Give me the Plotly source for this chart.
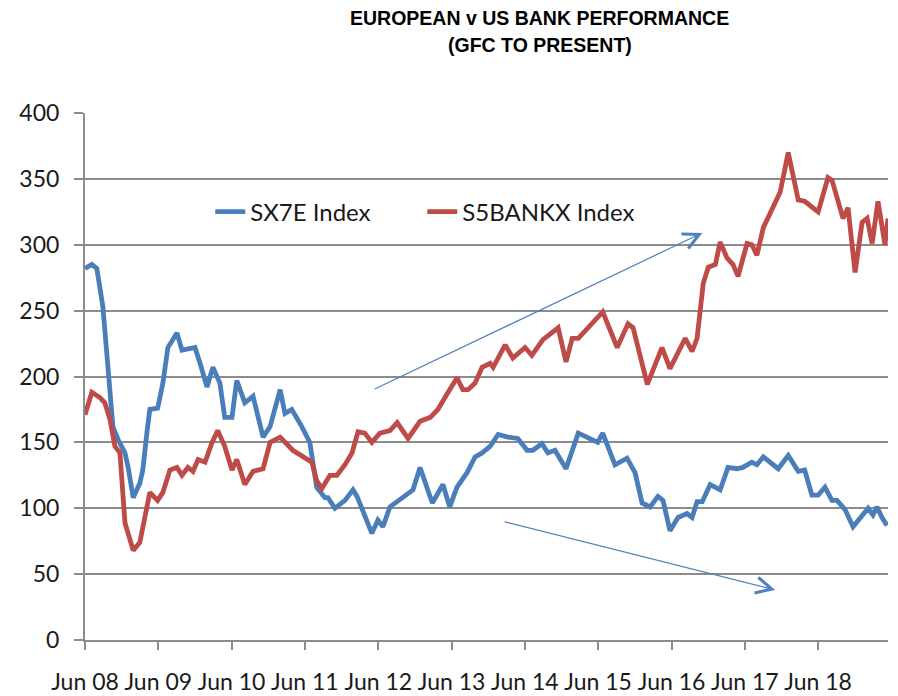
import plotly.graph_objects as go

# SX7E Index (European banks)
sx7e_dates = [
    '2008-06-01', '2008-07-05', '2008-07-30', '2008-08-29', '2008-09-19', '2008-10-04',
    '2008-10-18', '2008-11-13', '2008-12-17', '2009-01-02', '2009-01-27', '2009-03-01',
    '2009-03-16', '2009-04-05', '2009-04-20', '2009-05-29', '2009-06-24', '2009-07-19',
    '2009-09-02', '2009-09-27', '2009-12-01', '2009-12-26', '2010-01-30', '2010-02-28',
    '2010-04-04', '2010-04-28', '2010-06-03', '2010-06-27', '2010-08-06', '2010-09-16',
    '2010-11-05', '2010-12-10', '2011-01-29', '2011-02-22', '2011-03-28', '2011-05-17',
    '2011-06-26', '2011-07-30', '2011-09-09', '2011-09-24', '2011-10-29', '2011-12-18',
    '2012-01-27', '2012-02-16', '2012-03-26', '2012-04-30', '2012-05-30', '2012-06-24',
    '2012-07-29', '2012-10-02', '2012-11-21', '2012-12-26', '2013-02-25', '2013-04-19',
    '2013-05-23', '2013-06-28', '2013-08-17', '2013-09-26', '2013-10-31', '2013-12-10',
    '2014-01-19', '2014-03-08', '2014-04-27', '2014-06-12', '2014-07-11', '2014-08-25',
    '2014-09-24', '2014-10-29', '2014-12-23', '2015-02-22', '2015-04-06', '2015-05-30',
    '2015-06-24', '2015-08-24', '2015-10-23', '2015-12-02', '2016-01-06', '2016-02-15',
    '2016-03-25', '2016-04-19', '2016-05-24', '2016-07-03', '2016-08-17', '2016-09-11',
    '2016-10-06', '2016-11-01', '2016-12-10', '2017-01-29', '2017-03-09', '2017-04-23',
    '2017-05-22', '2017-07-06', '2017-07-31', '2017-09-01', '2017-11-14', '2018-01-03',
    '2018-02-22', '2018-03-26', '2018-05-01', '2018-06-01', '2018-07-05', '2018-08-09',
    '2018-09-03', '2018-10-13', '2018-11-22', '2019-01-06', '2019-02-05', '2019-03-01',
    '2019-03-21', '2019-04-15', '2019-05-10',
]
sx7e_values = [
    282, 285, 282, 253, 215, 182,
    162, 152, 142, 131, 108, 119,
    129, 157, 175, 176, 195, 222,
    233, 220, 222, 210, 192, 207,
    195, 169, 169, 197, 180, 185,
    154, 162, 190, 172, 175, 162,
    150, 116, 108, 108, 100, 106,
    114, 109, 93, 81, 91, 86,
    101, 108, 114, 131, 104, 118,
    101, 116, 127, 139, 142, 147,
    156, 154, 153, 144, 144, 149,
    142, 144, 130, 157, 154, 150,
    157, 133, 138, 127, 104, 101,
    109, 106, 83, 93, 96, 93,
    105, 105, 118, 114, 131, 130,
    131, 135, 133, 139, 130, 140,
    128, 129, 110, 110, 116, 106,
    106, 99, 86, 95, 100, 95,
    101, 93, 87,
]

# S5BANKX Index (US banks)
bank_dates = [
    '2008-06-01', '2008-07-05', '2008-08-14', '2008-09-08', '2008-10-04', '2008-10-28',
    '2008-11-22', '2008-12-17', '2009-01-27', '2009-03-01', '2009-04-20', '2009-05-29',
    '2009-06-24', '2009-07-29', '2009-09-02', '2009-09-27', '2009-10-27', '2009-11-21',
    '2009-12-16', '2010-01-20', '2010-02-24', '2010-03-24', '2010-04-28', '2010-06-03',
    '2010-06-27', '2010-08-06', '2010-09-16', '2010-11-05', '2010-12-10', '2011-01-29',
    '2011-04-02', '2011-05-17', '2011-07-06', '2011-07-30', '2011-08-25', '2011-10-04',
    '2011-11-08', '2011-12-18', '2012-01-22', '2012-02-21', '2012-03-26', '2012-04-30',
    '2012-06-09', '2012-07-29', '2012-09-03', '2012-10-27', '2012-12-26', '2013-02-15',
    '2013-03-25', '2013-04-29', '2013-06-28', '2013-07-27', '2013-08-22', '2013-09-26',
    '2013-10-31', '2013-12-10', '2013-12-25', '2014-02-23', '2014-04-02', '2014-06-02',
    '2014-07-06', '2014-08-30', '2014-11-14', '2014-12-23', '2015-01-23', '2015-02-22',
    '2015-04-21', '2015-06-24', '2015-09-04', '2015-10-28', '2015-11-22', '2016-02-01',
    '2016-04-14', '2016-05-24', '2016-08-08', '2016-09-11', '2016-10-06', '2016-11-06',
    '2016-12-01', '2017-01-05', '2017-01-29', '2017-03-04', '2017-04-03', '2017-04-28',
    '2017-06-12', '2017-07-06', '2017-07-31', '2017-09-01', '2017-11-24', '2018-01-03',
    '2018-02-22', '2018-03-26', '2018-06-01', '2018-07-20', '2018-08-09', '2018-10-03',
    '2018-10-28', '2018-12-02', '2019-01-06', '2019-01-31', '2019-02-25', '2019-03-26',
    '2019-04-30', '2019-05-15',
]
bank_values = [
    171, 188, 184, 180, 167, 147,
    142, 89, 68, 74, 112, 106,
    112, 129, 131, 125, 131, 128,
    137, 135, 150, 159, 147, 129,
    137, 118, 128, 130, 150, 154,
    144, 140, 135, 121, 115, 125,
    125, 133, 142, 158, 157, 150,
    157, 159, 165, 153, 166, 169,
    175, 184, 199, 190, 190, 195,
    207, 210, 207, 224, 214, 222,
    216, 228, 237, 211, 229, 229,
    238, 249, 222, 240, 237, 194,
    222, 206, 229, 219, 229, 271,
    283, 285, 302, 290, 285, 276,
    301, 300, 292, 313, 340, 370,
    334, 333, 325, 351, 349, 320,
    328, 279, 317, 320, 301, 333,
    300, 320,
]

tick_dates = ['2008-06-01', '2009-06-01', '2010-06-01', '2011-06-01', '2012-06-01', '2013-06-01',
              '2014-06-01', '2015-06-01', '2016-06-01', '2017-06-01', '2018-06-01']
tick_labels = ['Jun 08', 'Jun 09', 'Jun 10', 'Jun 11', 'Jun 12', 'Jun 13',
               'Jun 14', 'Jun 15', 'Jun 16', 'Jun 17', 'Jun 18']

BLUE = '#4a7ebb'
RED = '#be4b48'
GRID = '#8c8c8c'
FONT = 'Lato, "Open Sans", sans-serif'

fig = go.Figure()

fig.add_trace(go.Scatter(
    x=sx7e_dates, y=sx7e_values, name='SX7E Index', mode='lines',
    line=dict(color=BLUE, width=4.8)
))
fig.add_trace(go.Scatter(
    x=bank_dates, y=bank_values, name='S5BANKX Index', mode='lines',
    line=dict(color=RED, width=4.8)
))

# Trend arrows drawn over the chart
arrow_style = dict(
    xref='x', yref='y', axref='x', ayref='y', text='', showarrow=True,
    arrowhead=5, arrowsize=2.6, arrowwidth=1.2, arrowcolor='#4f81bd'
)
fig.add_annotation(x='2016-11-01', y=309, ax='2012-05-07', ay=190, **arrow_style)
fig.add_annotation(x='2017-10-30', y=38, ax='2014-02-13', ay=90, **arrow_style)

# Two-line bold title
title_font = dict(family='"Liberation Sans", Arial, sans-serif', size=19.5, color='#000')
fig.add_annotation(x=0.5666, y=1.180, xref='paper', yref='paper', showarrow=False,
                   yanchor='middle', text='<b>EUROPEAN v US BANK PERFORMANCE</b>', font=title_font)
fig.add_annotation(x=0.5666, y=1.129, xref='paper', yref='paper', showarrow=False,
                   yanchor='middle', text='<b>(GFC TO PRESENT)</b>', font=title_font)

# the page puts the figure 8px in from the top-left corner, so margins allow for it
fig.update_layout(
    width=898, height=696,
    margin=dict(l=77, r=18, t=105, b=64, autoexpand=False),
    plot_bgcolor='white', paper_bgcolor='white',
    font=dict(family=FONT, size=23, color='#1a1a1a'),
    showlegend=True,
    legend=dict(
        orientation='h', x=0.156, y=0.812, xanchor='left', yanchor='middle',
        bgcolor='rgba(0,0,0,0)', font=dict(family=FONT, size=24, color='#1a1a1a'),
        itemwidth=30, entrywidth=167
    ),
    xaxis=dict(
        type='date', range=['2008-06-01', '2019-05-15'],
        tickvals=tick_dates, ticktext=tick_labels,
        showgrid=False, showline=True, linecolor=GRID, linewidth=2,
        ticks='outside', ticklen=8, tickcolor=GRID, tickwidth=2,
        ticklabelstandoff=12, zeroline=False
    ),
    yaxis=dict(
        range=[0, 400], dtick=50,
        showgrid=True, gridcolor=GRID, gridwidth=2,
        showline=True, linecolor=GRID, linewidth=2,
        ticks='outside', ticklen=9, tickcolor=GRID, tickwidth=2,
        ticklabelstandoff=10, zeroline=False
    ),
)

fig.write_html("out.html")
